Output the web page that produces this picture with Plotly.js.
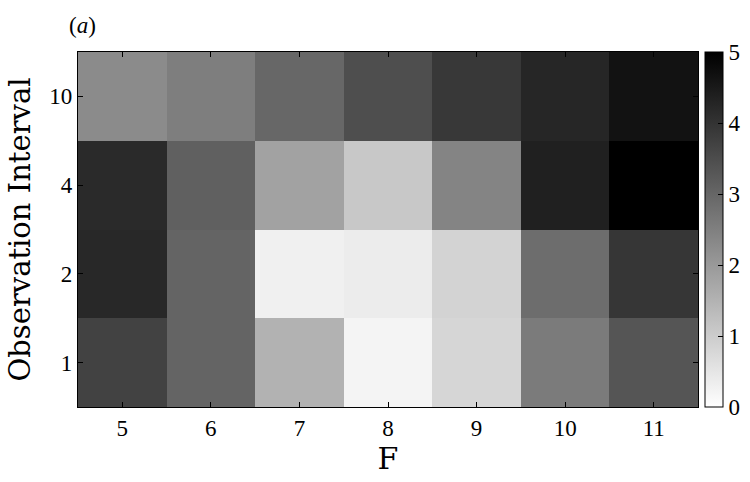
<!DOCTYPE html>
<html>
<head>
<meta charset="utf-8">
<script src="https://cdn.plot.ly/plotly-3.0.1.min.js"></script>
<style>
  html, body { margin: 0; padding: 0; background: #fff; }
  #chart { width: 750px; height: 482px; }
</style>
</head>
<body>
<div id="chart"></div>
<script>
// F values along x, observation intervals along y (categorical)
const fValues = [5, 6, 7, 8, 9, 10, 11];
const intervals = ['1', '2', '4', '10'];

// one row per observation interval, read from the grey levels
const row1  = [3.71, 3.04, 1.51, 0.22, 0.80, 2.59, 3.33];
const row2  = [4.22, 3.04, 0.29, 0.37, 0.86, 2.86, 3.94];
const row4  = [4.18, 3.12, 1.82, 1.08, 2.41, 4.37, 5.0];
const row10 = [2.27, 2.53, 2.98, 3.47, 3.90, 4.25, 4.65];

const FONT = 'Liberation Serif, DejaVu Serif, serif';
const TITLE_FONT = 'DejaVu Serif, serif';

const trace = {
  type: 'heatmap',
  x: fValues,
  y: intervals,
  z: [row1, row2, row4, row10],
  zmin: 0, zmax: 5,
  colorscale: [[0, '#ffffff'], [1, '#000000']],
  showscale: true,
  colorbar: {
    x: 1.0113, xanchor: 'left', xpad: 0,
    y: 0.5, yanchor: 'middle', ypad: 0,
    len: 1, lenmode: 'fraction',
    thickness: 18,
    outlinewidth: 1, outlinecolor: '#000',
    tickvals: [0, 1, 2, 3, 4, 5],
    ticks: 'inside', ticklen: 5, tickcolor: '#000',
    tickfont: { family: FONT, size: 23, color: '#000' },
  },
};

const layout = {
  width: 750, height: 482,
  paper_bgcolor: '#fff', plot_bgcolor: '#fff',
  margin: { l: 78, r: 52, t: 52, b: 75, autoexpand: false },
  font: { family: FONT, color: '#000' },
  xaxis: {
    tickvals: fValues, ticks: 'inside', ticklen: 5, tickcolor: '#000',
    showline: true, mirror: 'ticks', linecolor: '#000', linewidth: 1.2,
    showgrid: false, zeroline: false,
    range: [4.5, 11.5],
    tickfont: { family: FONT, size: 23 },
    title: { text: 'F', font: { family: TITLE_FONT, size: 30 }, standoff: 6 },
  },
  yaxis: {
    type: 'category',
    ticks: 'inside', ticklen: 5, tickcolor: '#000',
    showline: true, mirror: 'ticks', linecolor: '#000', linewidth: 1.2,
    showgrid: false, zeroline: false,
    tickfont: { family: FONT, size: 23 },
    title: { text: 'Observation Interval', font: { family: TITLE_FONT, size: 29 }, standoff: 10 },
  },
  annotations: [{
    text: '(<i>a</i>)', xref: 'paper', yref: 'paper',
    x: -0.018, y: 1.076, xanchor: 'left', yanchor: 'middle',
    showarrow: false, font: { family: FONT, size: 23 },
  }],
};

Plotly.newPlot('chart', [trace], layout, { displayModeBar: false, staticPlot: true });
</script>
</body>
</html>
